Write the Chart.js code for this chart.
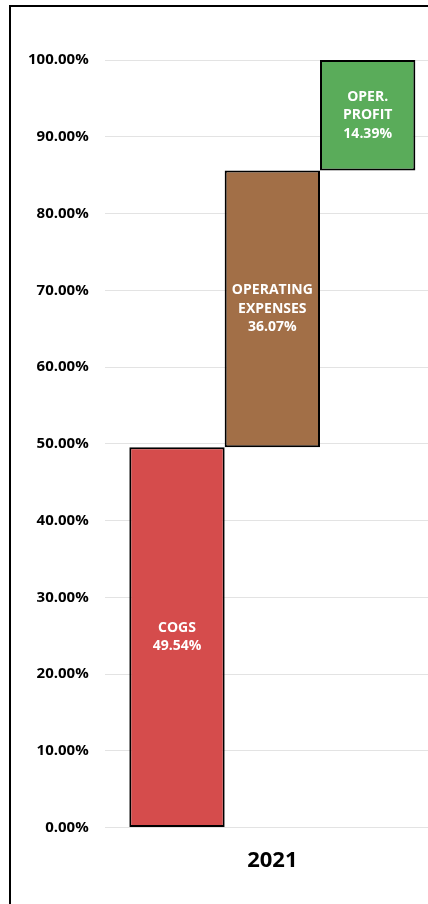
<!DOCTYPE html>
<html>
<head>
<meta charset="utf-8">
<script src="https://cdn.jsdelivr.net/npm/chart.js@4"></script>
<style>
  html, body { margin: 0; padding: 0; background: #fff; overflow: hidden; width: 428px; height: 904px; }
  #frame { position: absolute; left: 9px; top: 5px; width: 600px; height: 1000px; border-left: 2px solid #000; border-top: 2px solid #000; }
  #wrap { position: absolute; left: 0; top: 0; width: 440px; height: 886px; }
</style>
</head>
<body>
<div id="frame"></div>
<div id="wrap"><canvas id="chart"></canvas></div>
<script>
// Waterfall: share of revenue, 2021
const categories = ['2021'];
const stepNames = [['COGS'], ['OPERATING', 'EXPENSES'], ['OPER.', 'PROFIT']];
const stepValues = [49.54, 36.07, 14.39];
const stepColors = ['#d54c4c', '#a26f47', '#5aac5a'];
const yTicks = [0, 10, 20, 30, 40, 50, 60, 70, 80, 90, 100];

// build floating ranges from the step values
const datasets = [];
let running = 0;
stepValues.forEach((v, i) => {
    datasets.push({
        label: stepNames[i].join(' '),
        data: [[running, running + v]],
        backgroundColor: stepColors[i],
        borderColor: '#000',
        borderWidth: 2,
        borderSkipped: false,
        barPercentage: 1,
        categoryPercentage: 0.853
    });
    running += v;
});

// draw the names + values inside each bar
const barLabels = {
    id: 'barLabels',
    afterDatasetsDraw(chart) {
        const ctx = chart.ctx;
        ctx.save();
        ctx.fillStyle = '#fff';
        ctx.font = 'bold 14px "Open Sans"';
        ctx.textAlign = 'center';
        ctx.textBaseline = 'middle';
        chart.data.datasets.forEach((ds, i) => {
            const bar = chart.getDatasetMeta(i).data[0];
            const lines = stepNames[i].concat([stepValues[i].toFixed(2) + '%']);
            const lh = 18.5;
            const cy = (bar.y + bar.base) / 2;
            lines.forEach((t, k) => {
                ctx.fillText(t, bar.x, cy + (k - (lines.length - 1) / 2) * lh);
            });
        });
        ctx.restore();
    }
};

new Chart(document.getElementById('chart'), {
    type: 'bar',
    data: { labels: categories, datasets: datasets },
    options: {
        responsive: true,
        maintainAspectRatio: false,
        animation: false,
        layout: { padding: { left: 12, top: 60, right: 0, bottom: 0 } },
        plugins: { legend: { display: false }, tooltip: { enabled: false } },
        scales: {
            x: {
                grid: { display: false },
                border: { display: false },
                ticks: { color: '#000', font: { family: 'Open Sans', size: 22, weight: 'bold' }, padding: 12 }
            },
            y: {
                min: 0,
                max: 100,
                afterBuildTicks(scale) { scale.ticks = yTicks.map(v => ({ value: v })); },
                grid: { color: '#e3e3e3', drawTicks: false },
                border: { display: false },
                ticks: {
                    color: '#000',
                    padding: 16,
                    font: { family: 'Open Sans', size: 15, weight: 'bold' },
                    callback: v => v.toFixed(2) + '%'
                }
            }
        }
    },
    plugins: [barLabels]
});
</script>
</body>
</html>
